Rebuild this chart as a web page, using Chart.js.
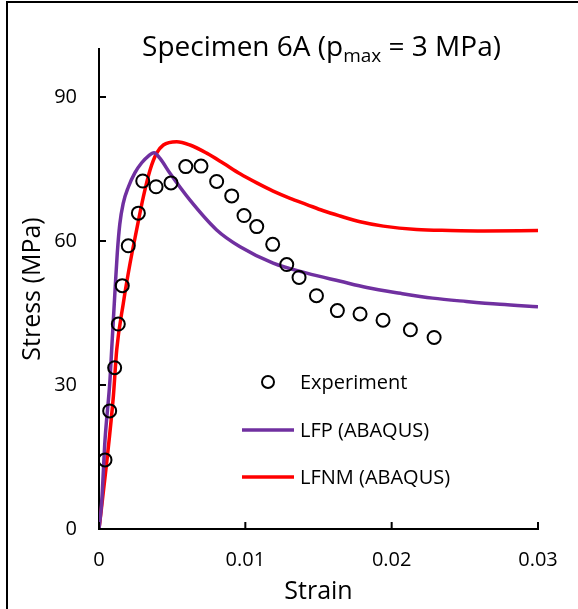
<!DOCTYPE html>
<html>
<head>
<meta charset="utf-8">
<script src="https://cdn.jsdelivr.net/npm/chart.js@4.4.1/dist/chart.umd.min.js"></script>
<style>
  body { margin: 0; background: #fff; }
  #wrap { position: relative; width: 578px; height: 609px; }
  #frame { position: absolute; left: 6px; top: 1px; right: -10px; bottom: -10px;
           border-left: 2px solid #000; border-top: 2px solid #000; pointer-events: none; }
</style>
</head>
<body>
<div id="wrap">
  <canvas id="chart" width="578" height="609"></canvas>
  <div id="frame"></div>
</div>
<script>
// experiment points (strain, MPa)
const expStrain = [0.00041, 0.00073, 0.00107, 0.00132, 0.00159, 0.0020, 0.00269, 0.00299, 0.0039, 0.00492,
  0.00593, 0.00697, 0.00804, 0.00907, 0.00991, 0.01078, 0.01187, 0.01283, 0.01367, 0.01486,
  0.01629, 0.01784, 0.01941, 0.02128, 0.0229];
const expStress = [14.4, 24.6, 33.6, 42.7, 50.7, 59.0, 65.8, 72.5, 71.3, 72.1,
  75.5, 75.6, 72.4, 69.4, 65.3, 63.0, 59.3, 55.1, 52.4, 48.6,
  45.5, 44.8, 43.5, 41.5, 39.9];

// LFP (ABAQUS)
const lfpStrain = [0, 0.00018, 0.00041, 0.00075, 0.00089, 0.00112, 0.00125, 0.00142, 0.00165, 0.002, 0.00245,
  0.00292, 0.00337, 0.00376, 0.00417, 0.00485, 0.00622, 0.00804, 0.00964, 0.0119, 0.0142,
  0.0165, 0.0183, 0.0206, 0.0228, 0.0251, 0.0274, 0.03];
const lfpStress = [0, 5.4, 18.5, 31, 38.7, 51, 57.5, 63.5, 67.8, 71.2, 74.2,
  76.3, 77.7, 78.4, 77.2, 74.1, 68.5, 62.3, 58.8, 55.4, 53.3,
  51.6, 50.3, 49.1, 48.1, 47.4, 46.8, 46.3];

// LFNM (ABAQUS)
const lfnmStrain = [0, 0.00052, 0.00098, 0.00121, 0.00166, 0.00212, 0.00257, 0.00303, 0.00349, 0.00394,
  0.0044, 0.00531, 0.00622, 0.00736, 0.0085, 0.00964, 0.01078, 0.0119, 0.01306, 0.0142,
  0.01533, 0.01647, 0.01784, 0.01943, 0.0217, 0.024, 0.0263, 0.03];
const lfnmStress = [0, 13.7, 27.6, 37.3, 47, 55.3, 62.3, 69.2, 74.8, 78.3,
  80, 80.7, 80, 78.3, 76.2, 74.0, 72.1, 70.4, 68.9, 67.6,
  66.3, 65.2, 64.0, 63.1, 62.4, 62.2, 62.1, 62.2];

const xTicks = [0, 0.01, 0.02, 0.03];
const yTicks = [0, 30, 60, 90];

const FONT = '"Open Sans", "Noto Sans", sans-serif';
const PURPLE = '#7030A0';
const RED = '#FF0000';

function pts(xs, ys) {
  return xs.map((x, i) => ({x: x, y: ys[i]}))
}

// ticks pointing into the plot
const innerTicks = {
  id: 'innerTicks',
  afterDatasetsDraw(chart) {
    const ctx = chart.ctx;
    const {x, y} = chart.scales;
    ctx.save();
    ctx.strokeStyle = '#000';
    ctx.lineWidth = 2;
    ctx.beginPath();
    for (const v of xTicks) {
      const px = x.getPixelForValue(v);
      ctx.moveTo(px, y.bottom);
      ctx.lineTo(px, y.bottom - 7);
    }
    for (const v of yTicks) {
      const py = y.getPixelForValue(v);
      ctx.moveTo(x.left, py);
      ctx.lineTo(x.left + 7, py);
    }
    ctx.stroke();
    ctx.restore();
  }
}

const titleWithSub = {
  id: 'titleWithSub',
  afterDraw(chart) {
    const ctx = chart.ctx;
    const main = '28px ' + FONT;
    const sub = '19px ' + FONT;
    const parts = [['Specimen 6A (p', main, 0], ['max', sub, 6], [' = 3 MPa)', main, 0]];
    ctx.save();
    ctx.fillStyle = '#000';
    ctx.textBaseline = 'alphabetic';
    ctx.textAlign = 'left';
    let total = 0;
    for (const p of parts) { ctx.font = p[1]; total += ctx.measureText(p[0]).width; }
    let cx = 321.5 - total / 2;
    for (const p of parts) {
      ctx.font = p[1];
      ctx.fillText(p[0], cx, 56 + p[2]);
      cx += ctx.measureText(p[0]).width;
    }
    ctx.restore();
  }
}

const insideLegend = {
  id: 'insideLegend',
  afterDraw(chart) {
    const ctx = chart.ctx;
    ctx.save();
    ctx.strokeStyle = '#000';
    ctx.lineWidth = 2;
    ctx.beginPath();
    ctx.arc(268, 382, 6, 0, Math.PI * 2);
    ctx.stroke();
    ctx.lineWidth = 3.5;
    ctx.strokeStyle = PURPLE;
    ctx.beginPath(); ctx.moveTo(242, 430); ctx.lineTo(294, 430); ctx.stroke();
    ctx.strokeStyle = RED;
    ctx.beginPath(); ctx.moveTo(242, 477); ctx.lineTo(294, 477); ctx.stroke();
    ctx.fillStyle = '#000';
    ctx.font = '20px ' + FONT;
    ctx.textBaseline = 'middle';
    ctx.fillText('Experiment', 300, 383);
    ctx.fillText('LFP (ABAQUS)', 300, 431);
    ctx.fillText('LFNM (ABAQUS)', 300, 478);
    ctx.restore();
  }
}

new Chart(document.getElementById('chart'), {
  type: 'scatter',
  data: {
    datasets: [
      {
        label: 'Experiment',
        data: pts(expStrain, expStress),
        showLine: false,
        pointStyle: 'circle',
        pointRadius: 6.5,
        pointBorderWidth: 2,
        pointBorderColor: '#000',
        pointBackgroundColor: 'rgba(0,0,0,0)',
      },
      {
        label: 'LFP (ABAQUS)',
        data: pts(lfpStrain, lfpStress),
        showLine: true,
        borderColor: PURPLE,
        borderWidth: 3.5,
        pointRadius: 0,
        cubicInterpolationMode: 'monotone',
      },
      {
        label: 'LFNM (ABAQUS)',
        data: pts(lfnmStrain, lfnmStress),
        showLine: true,
        borderColor: RED,
        borderWidth: 3.5,
        pointRadius: 0,
        cubicInterpolationMode: 'monotone',
      },
    ]
  },
  options: {
    responsive: false,
    animation: false,
    layout: { padding: { top: 49, right: 40, left: 0, bottom: 0 } },
    plugins: {
      legend: { display: false },
      title: { display: false },
      tooltip: { enabled: false },
    },
    scales: {
      x: {
        type: 'linear',
        min: 0,
        max: 0.03,
        afterFit: (s) => { s.height = 80 },
        afterBuildTicks: (s) => { s.ticks = xTicks.map(v => ({value: v})) },
        grid: { drawOnChartArea: false, drawTicks: false },
        border: { display: true, color: '#000', width: 2 },
        ticks: {
          padding: 19,
          color: '#000',
          font: { family: FONT, size: 20 },
          maxRotation: 0,
          callback: (v) => String(+v.toFixed(2)),
        },
        title: {
          display: true,
          text: 'Strain',
          color: '#000',
          font: { family: FONT, size: 25 },
          padding: { top: 0, bottom: 2 },
        },
      },
      y: {
        type: 'linear',
        min: 0,
        max: 100,
        afterFit: (s) => { s.width = 99 },
        afterBuildTicks: (s) => { s.ticks = yTicks.map(v => ({value: v})) },
        grid: { drawOnChartArea: false, drawTicks: false },
        border: { display: true, color: '#000', width: 2 },
        ticks: {
          padding: 22,
          color: '#000',
          font: { family: FONT, size: 20 },
        },
        title: {
          display: true,
          text: 'Stress (MPa)',
          color: '#000',
          font: { family: FONT, size: 25 },
          padding: { top: 18, bottom: 0 },
        },
      },
    },
  },
  plugins: [innerTicks, titleWithSub, insideLegend],
});
</script>
</body>
</html>
